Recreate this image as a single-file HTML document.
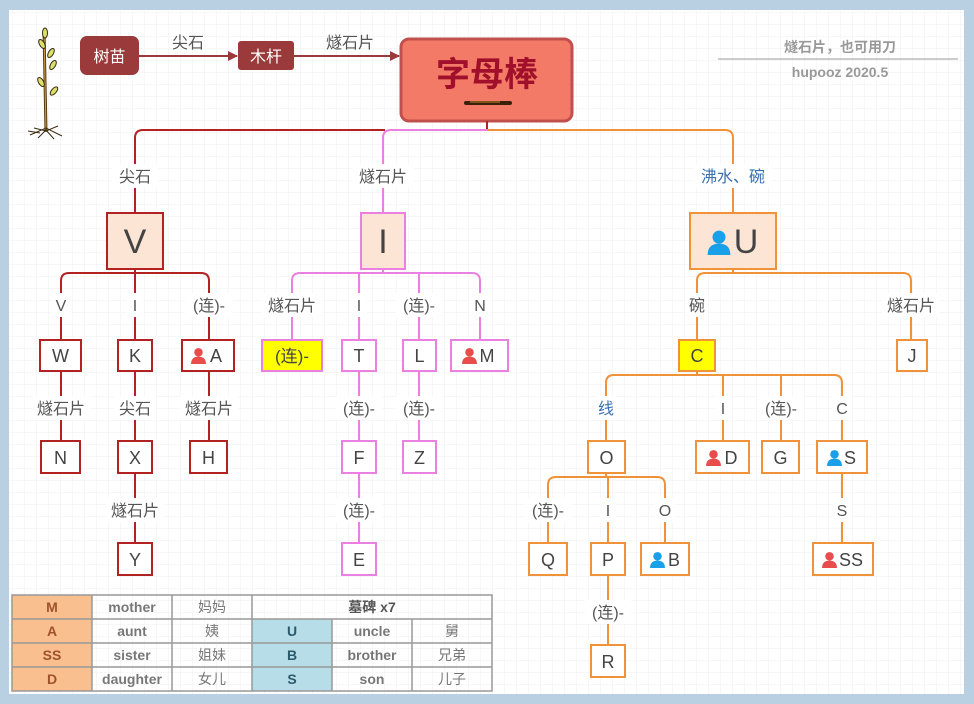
<!DOCTYPE html>
<html><head><meta charset="utf-8"><style>
html,body{margin:0;padding:0;background:#b9cfe2;}
svg{display:block;font-family:"Liberation Sans","Noto Sans CJK SC",sans-serif;}
</style></head><body>
<svg width="974" height="704" viewBox="0 0 974 704" xmlns="http://www.w3.org/2000/svg">
<defs>
<pattern id="g" width="12" height="12" patternUnits="userSpaceOnUse"><path d="M12 0H0V12" fill="none" stroke="#efefef" stroke-width="1"/></pattern>
<marker id="ar" markerWidth="10" markerHeight="10" refX="9" refY="5" orient="auto" markerUnits="userSpaceOnUse"><path d="M0 0L10 5L0 10z" fill="#9b3a3a"/></marker>
<symbol id="pr" viewBox="0 0 16 16"><circle cx="8" cy="5" r="4" fill="#e84c4c"/><path d="M1 16Q1 9 8 9Q15 9 15 16z" fill="#e84c4c"/></symbol>
<symbol id="pb" viewBox="0 0 16 16"><circle cx="8" cy="5" r="4" fill="#1aa0e8"/><path d="M1 16Q1 9 8 9Q15 9 15 16z" fill="#1aa0e8"/></symbol>
</defs>
<rect x="0" y="0" width="974" height="704" fill="#b9cfe2"/>
<rect x="9" y="10" width="955" height="684" fill="#fff"/>
<rect x="9" y="10" width="955" height="684" fill="url(#g)"/>

<!-- tree -->
<g stroke="#3a2a10" stroke-width="1">
<path d="M44 30 L46 132" stroke="#5a3a12" stroke-width="3"/>
<path d="M44 30 L46 132" stroke="#c8a040" stroke-width="1"/>
<ellipse cx="45" cy="33" rx="2.5" ry="5" fill="#d8e070"/>
<ellipse cx="42" cy="44" rx="2.5" ry="5" fill="#d8e070" transform="rotate(-30 42 44)"/>
<ellipse cx="51" cy="53" rx="2.5" ry="5" fill="#d8e070" transform="rotate(30 51 53)"/>
<ellipse cx="53" cy="65" rx="2.5" ry="5" fill="#d8e070" transform="rotate(30 53 65)"/>
<ellipse cx="41" cy="82" rx="2.5" ry="5" fill="#d8e070" transform="rotate(-30 41 82)"/>
<ellipse cx="54" cy="91" rx="2.5" ry="5" fill="#d8e070" transform="rotate(40 54 91)"/>
<path d="M30 135 L46 128 L62 136 M34 128 L46 131 L58 126 M38 138 L46 130 L54 139 M28 131 L40 133" fill="none"/>
</g>

<!-- top flow -->
<rect x="80" y="36" width="59" height="39" rx="7" fill="#9b3a3a"/>
<text x="109.5" y="62" text-anchor="middle" font-size="16" fill="#fff">树苗</text>
<line x1="139" y1="56" x2="237" y2="56" stroke="#9b3a3a" stroke-width="2" marker-end="url(#ar)"/>
<text x="188" y="48" text-anchor="middle" font-size="16" fill="#555">尖石</text>
<rect x="238" y="41" width="56" height="29" rx="3" fill="#9b3a3a"/>
<text x="266" y="62" text-anchor="middle" font-size="16" fill="#fff">木杆</text>
<line x1="294" y1="56" x2="399" y2="56" stroke="#9b3a3a" stroke-width="2" marker-end="url(#ar)"/>
<text x="350" y="48" text-anchor="middle" font-size="16" fill="#555">燧石片</text>
<rect x="401" y="39" width="171" height="82" rx="8" fill="#f47a68" stroke="#c0504d" stroke-width="3"/>
<text x="487" y="86" text-anchor="middle" font-size="34" font-weight="bold" fill="#a0102a">字母棒</text>
<path d="M466 103 L510 103" stroke="#3a2008" stroke-width="4" stroke-linecap="round"/>
<path d="M470 102 L500 102" stroke="#c88a30" stroke-width="1"/>

<!-- top right -->
<text x="840" y="52" text-anchor="middle" font-size="14" font-weight="bold" fill="#999">燧石片，也可用刀</text>
<line x1="718" y1="59" x2="958" y2="59" stroke="#999" stroke-width="1"/>
<text x="840" y="77" text-anchor="middle" font-size="14" font-weight="bold" fill="#999">hupooz 2020.5</text>

<g fill="none" stroke-width="2">
<!-- main connectors -->
<path d="M487 121V130" stroke="#b22222"/>
<path d="M385 130H143Q135 130 135 138V213" stroke="#b22222"/>
<path d="M487 130H391Q383 130 383 138V213" stroke="#ea80e0"/>
<path d="M487 130H725Q733 130 733 138V213" stroke="#f0923a"/>

<!-- V branch -->
<g stroke="#b22222">
<path d="M135 269V273M69 273H201Q209 273 209 281V340M135 273V340M69 273Q61 273 61 281V340"/>
<path d="M61 371V441M135 371V441M209 371V441M135 473V543"/>
</g>
<!-- I branch -->
<g stroke="#ea80e0">
<path d="M383 269V273M300 273H472Q480 273 480 281V340M292 281Q292 273 300 273M292 281V340M359 273V340M419 273V340"/>
<path d="M359 371V543M419 371V441"/>
</g>
<!-- U branch -->
<g stroke="#f0923a">
<path d="M733 269V273M705 273H903Q911 273 911 281V340M697 281Q697 273 705 273M697 281V340"/>
<path d="M697 371V375M614 375H834Q842 375 842 383V441M606 383Q606 375 614 375M606 383V441M723 375V441M781 375V441"/>
<path d="M606 473V477M556 477H657Q665 477 665 485V543M548 485Q548 477 556 477M548 485V543M608 477V543M608 575V645M842 473V543"/>
</g>
</g>

<!-- label backgrounds + labels -->
<g font-size="16" fill="#555" text-anchor="middle">
<g fill="#fff">
<rect x="112" y="164" width="46" height="24"/><rect x="352" y="164" width="62" height="24"/><rect x="694" y="164" width="78" height="24"/>
<rect x="51" y="293" width="20" height="24"/><rect x="127" y="293" width="16" height="24"/><rect x="185" y="293" width="48" height="24"/>
<rect x="262" y="293" width="60" height="24"/><rect x="351" y="293" width="16" height="24"/><rect x="396" y="293" width="46" height="24"/><rect x="470" y="293" width="20" height="24"/>
<rect x="686" y="293" width="22" height="24"/><rect x="882" y="293" width="58" height="24"/>
<rect x="32" y="396" width="58" height="24"/><rect x="114" y="396" width="42" height="24"/><rect x="180" y="396" width="58" height="24"/>
<rect x="336" y="396" width="46" height="24"/><rect x="396" y="396" width="46" height="24"/><rect x="106" y="498" width="58" height="24"/><rect x="336" y="498" width="46" height="24"/>
<rect x="596" y="396" width="20" height="24"/><rect x="715" y="396" width="16" height="24"/><rect x="758" y="396" width="46" height="24"/><rect x="832" y="396" width="20" height="24"/>
<rect x="525" y="498" width="46" height="24"/><rect x="600" y="498" width="16" height="24"/><rect x="655" y="498" width="20" height="24"/><rect x="832" y="498" width="20" height="24"/><rect x="585" y="600" width="46" height="24"/>
</g>
<text x="135" y="182">尖石</text><text x="383" y="182">燧石片</text><text x="733" y="182" fill="#3a6fb0">沸水、碗</text>
<text x="61" y="311">V</text><text x="135" y="311">I</text><text x="209" y="311">(连)-</text>
<text x="292" y="311">燧石片</text><text x="359" y="311">I</text><text x="419" y="311">(连)-</text><text x="480" y="311">N</text>
<text x="697" y="311">碗</text><text x="911" y="311">燧石片</text>
<text x="61" y="414">燧石片</text><text x="135" y="414">尖石</text><text x="209" y="414">燧石片</text>
<text x="359" y="414">(连)-</text><text x="419" y="414">(连)-</text>
<text x="135" y="516">燧石片</text><text x="359" y="516">(连)-</text>
<text x="606" y="414" fill="#3a6fb0">线</text><text x="723" y="414">I</text><text x="781" y="414">(连)-</text><text x="842" y="414">C</text>
<text x="548" y="516">(连)-</text><text x="608" y="516">I</text><text x="665" y="516">O</text><text x="842" y="516">S</text>
<text x="608" y="618">(连)-</text>
</g>

<!-- level-1 boxes -->
<g stroke-width="2">
<rect x="107" y="213" width="56" height="56" fill="#fde5d6" stroke="#b22222"/>
<rect x="361" y="213" width="44" height="56" fill="#fde5d6" stroke="#ea80e0"/>
<rect x="690" y="213" width="86" height="56" fill="#fde5d6" stroke="#f0923a"/>
</g>
<g font-size="34" fill="#444" text-anchor="middle">
<text x="135" y="253">V</text><text x="383" y="253">I</text><text x="746" y="253">U</text>
</g>
<use href="#pb" x="706" y="229" width="26" height="26"/>

<!-- leaf boxes -->
<g stroke-width="2" fill="#fff">
<g stroke="#b22222">
<rect x="40" y="340" width="41" height="31"/><rect x="118" y="340" width="34" height="31"/><rect x="182" y="340" width="52" height="31"/>
<rect x="41" y="441" width="39" height="32"/><rect x="118" y="441" width="34" height="32"/><rect x="190" y="441" width="37" height="32"/>
<rect x="118" y="543" width="34" height="32"/>
</g>
<g stroke="#ea80e0">
<rect x="262" y="340" width="60" height="31" fill="#ffff00"/><rect x="342" y="340" width="34" height="31"/><rect x="403" y="340" width="33" height="31"/><rect x="451" y="340" width="57" height="31"/>
<rect x="342" y="441" width="34" height="32"/><rect x="403" y="441" width="33" height="32"/><rect x="342" y="543" width="34" height="32"/>
</g>
<g stroke="#f0923a">
<rect x="679" y="340" width="36" height="31" fill="#ffff00"/><rect x="897" y="340" width="30" height="31"/>
<rect x="588" y="441" width="37" height="32"/><rect x="696" y="441" width="53" height="32"/><rect x="762" y="441" width="37" height="32"/><rect x="817" y="441" width="50" height="32"/>
<rect x="529" y="543" width="38" height="32"/><rect x="591" y="543" width="34" height="32"/><rect x="641" y="543" width="48" height="32"/><rect x="813" y="543" width="60" height="32"/>
<rect x="591" y="645" width="34" height="32"/>
</g>
</g>
<g font-size="18" fill="#444" text-anchor="middle">
<text x="60.5" y="362">W</text><text x="135" y="362">K</text><text x="216" y="362">A</text>
<text x="60.5" y="464">N</text><text x="135" y="464">X</text><text x="208.5" y="464">H</text><text x="135" y="566">Y</text>
<text x="292" y="362" font-size="17">(连)-</text><text x="359" y="362">T</text><text x="419.5" y="362">L</text><text x="487" y="362">M</text>
<text x="359" y="464">F</text><text x="419.5" y="464">Z</text><text x="359" y="566">E</text>
<text x="697" y="362">C</text><text x="912" y="362">J</text>
<text x="606.5" y="464">O</text><text x="731" y="464">D</text><text x="780.5" y="464">G</text><text x="850" y="464">S</text>
<text x="548" y="566">Q</text><text x="608" y="566">P</text><text x="674" y="566">B</text><text x="851" y="566">SS</text><text x="608" y="668">R</text>
</g>
<use href="#pr" x="190" y="347" width="17" height="17"/>
<use href="#pr" x="461" y="347" width="17" height="17"/>
<use href="#pr" x="705" y="449" width="17" height="17"/>
<use href="#pb" x="826" y="449" width="17" height="17"/>
<use href="#pb" x="649" y="551" width="17" height="17"/>
<use href="#pr" x="821" y="551" width="17" height="17"/>

<!-- table -->
<g>
<rect x="12" y="595" width="80" height="96" fill="#f9bf8f"/>
<rect x="252" y="619" width="80" height="72" fill="#b7dde8"/>
<g stroke="#999" stroke-width="1.5" fill="none">
<rect x="12" y="595" width="480" height="96"/>
<path d="M12 619H492M12 643H492M12 667H492M92 595V691M172 595V691M252 595V691M332 619V691M412 619V691"/>
</g>
<g font-size="14" font-weight="bold" text-anchor="middle" fill="#777">
<text x="52" y="612" fill="#a0522d">M</text><text x="52" y="636" fill="#a0522d">A</text><text x="52" y="660" fill="#a0522d">SS</text><text x="52" y="684" fill="#a0522d">D</text>
<text x="132" y="612">mother</text><text x="132" y="636">aunt</text><text x="132" y="660">sister</text><text x="132" y="684">daughter</text>
<g font-weight="normal"><text x="212" y="612">妈妈</text><text x="212" y="636">姨</text><text x="212" y="660">姐妹</text><text x="212" y="684">女儿</text></g>
<text x="372" y="612" fill="#555">墓碑 x7</text>
<text x="292" y="636" fill="#2a5a6a">U</text><text x="292" y="660" fill="#2a5a6a">B</text><text x="292" y="684" fill="#2a5a6a">S</text>
<text x="372" y="636">uncle</text><text x="372" y="660">brother</text><text x="372" y="684">son</text>
<g font-weight="normal"><text x="452" y="636">舅</text><text x="452" y="660">兄弟</text><text x="452" y="684">儿子</text></g>
</g>
</g>
</svg>
</body></html>
